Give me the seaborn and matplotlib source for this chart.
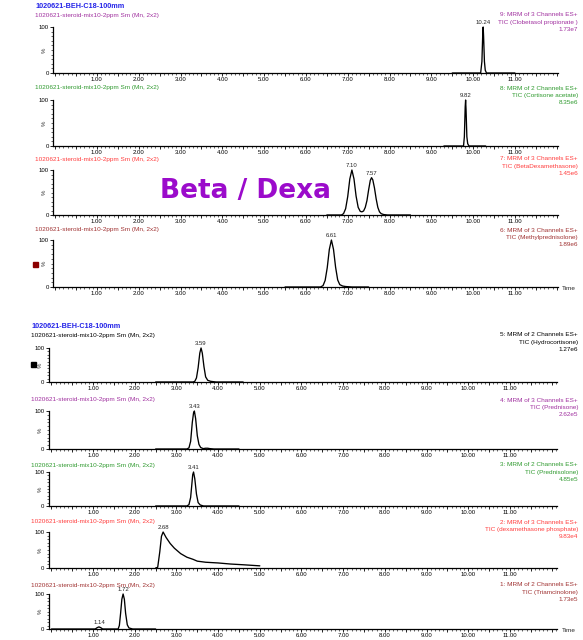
import numpy as np
import matplotlib
matplotlib.use('Agg')
import matplotlib.pyplot as plt
from matplotlib.patches import Rectangle
from matplotlib.ticker import MultipleLocator, FuncFormatter
import seaborn as sns

sns.set_style('white')
plt.rcParams['font.family'] = ['Liberation Sans', 'DejaVu Sans']

W, H = 583, 640

# --- data (time in min, intensity in %) ---
t9 = [9.50, 10.18, 10.21, 10.23, 10.24, 10.25, 10.27, 10.29, 10.32, 11.00]
i9 = [0, 0, 25, 85, 100, 80, 25, 6, 0, 0]

t8 = [9.30, 9.77, 9.79, 9.81, 9.82, 9.83, 9.85, 9.87, 9.90, 10.30]
i8 = [0, 0, 20, 85, 100, 80, 20, 5, 0, 0]

t7 = [6.50, 6.85, 6.90, 6.95, 7.00, 7.05, 7.10, 7.15, 7.20, 7.25, 7.30, 7.34, 7.38,
      7.42, 7.46, 7.50, 7.54, 7.57, 7.60, 7.64, 7.68, 7.72, 7.76, 7.80, 7.86, 7.95, 8.50]
i7 = [0, 0, 3, 14, 41, 80, 100, 80, 42, 17, 8, 7, 9,
      17, 32, 56, 77, 83, 78, 60, 36, 17, 7, 3, 1, 0, 0]

t6 = [5.50, 6.35, 6.41, 6.46, 6.51, 6.56, 6.61, 6.66, 6.71, 6.76, 6.81, 6.88, 6.95, 7.10, 7.50]
i6 = [0, 0, 3, 14, 41, 80, 100, 80, 42, 15, 5, 2, 1, 0, 0]

t5 = [2.50, 3.40, 3.44, 3.48, 3.52, 3.56, 3.59, 3.62, 3.66, 3.70, 3.75, 3.82, 3.95, 4.60]
i5 = [0, 0, 2, 12, 42, 85, 100, 85, 45, 15, 5, 2, 0, 0]

t4 = [2.50, 3.25, 3.30, 3.34, 3.38, 3.41, 3.43, 3.46, 3.50, 3.54, 3.58, 3.64, 3.70, 3.75, 3.80, 3.90, 4.50]
i4 = [0, 0, 3, 20, 70, 95, 100, 80, 35, 12, 4, 1, 2, 2, 1, 0, 0]

t3 = [2.50, 3.25, 3.30, 3.34, 3.37, 3.39, 3.41, 3.44, 3.48, 3.52, 3.57, 3.65, 4.50]
i3 = [0, 0, 4, 25, 65, 92, 100, 80, 35, 10, 3, 0, 0]

t2 = [2.50, 2.55, 2.60, 2.64, 2.68, 2.75, 2.85, 2.95, 3.10, 3.25, 3.40, 3.50, 3.70, 4.00, 4.30, 4.60, 5.00]
i2 = [0, 2, 45, 88, 100, 85, 68, 55, 40, 30, 24, 19, 16, 14, 11, 9, 6]

t1 = [0.00, 1.05, 1.10, 1.14, 1.18, 1.23, 1.60, 1.63, 1.66, 1.69, 1.72, 1.75, 1.78, 1.82, 1.86, 1.95, 2.50]
i1 = [0, 0, 4, 6, 4, 0, 0, 10, 45, 85, 100, 85, 45, 12, 3, 0, 0]

peaks9 = [(10.24, 100, '10.24')]
peaks8 = [(9.82, 100, '9.82')]
peaks7 = [(7.10, 100, '7.10'), (7.57, 83, '7.57')]
peaks6 = [(6.61, 100, '6.61')]
peaks5 = [(3.59, 100, '3.59')]
peaks4 = [(3.43, 100, '3.43')]
peaks3 = [(3.41, 100, '3.41')]
peaks2 = [(2.68, 100, '2.68')]
peaks1 = [(1.14, 6, '1.14'), (1.72, 100, '1.72')]

labels9 = ['9: MRM of 3 Channels ES+', 'TIC (Clobetasol propionate )', '1.73e7']
labels8 = ['8: MRM of 2 Channels ES+', 'TIC (Cortisone acetate)', '8.35e6']
labels7 = ['7: MRM of 3 Channels ES+', 'TIC (BetaDexamethasone)', '1.45e6']
labels6 = ['6: MRM of 3 Channels ES+', 'TIC (Methylprednisolone)', '1.89e6']
labels5 = ['5: MRM of 2 Channels ES+', 'TIC (Hydrocortisone)', '1.27e6']
labels4 = ['4: MRM of 3 Channels ES+', 'TIC (Prednisone)', '2.62e5']
labels3 = ['3: MRM of 2 Channels ES+', 'TIC (Prednisolone)', '4.85e5']
labels2 = ['2: MRM of 3 Channels ES+', 'TIC (dexamethasone phosphate)', '9.83e4']
labels1 = ['1: MRM of 2 Channels ES+', 'TIC (Triamcinolone)', '1.73e5']

title = '1020621-BEH-C18-100mm'
subtitle = '1020621-steroid-mix10-2ppm Sm (Mn, 2x2)'

purple = '#A0309F'
green = '#2F9A2F'
red = '#FF3D3D'
dred = '#A03232'
blue = '#2424E8'

fig = plt.figure(figsize=(W / 100, H / 100), dpi=100)


def fx(x):
    return x / W


def fy(y):
    return 1 - y / H


def tick_fmt(v, pos):
    if abs(v - round(v)) < 1e-6 and 1 <= round(v) <= 11:
        return '%.2f' % v
    return ''


def panel(x0, x1, xlim, sub_x, sub_y, ytop, ybot, t, i, color, labels, peaks, time_lbl=False):
    ax = fig.add_axes([fx(x0), fy(ybot), (x1 - x0) / W, (ybot - ytop) / H])
    sns.lineplot(x=t, y=i, ax=ax, color='black', linewidth=0.95, estimator=None,
                 sort=False, clip_on=False)
    ax.set_xlim(*xlim)
    ax.set_ylim(0, 100)
    for s in ['top', 'right']:
        ax.spines[s].set_visible(False)
    for s in ['left', 'bottom']:
        ax.spines[s].set_linewidth(0.9)
        ax.spines[s].set_color('black')
    ax.xaxis.set_major_locator(MultipleLocator(0.5))
    ax.xaxis.set_minor_locator(MultipleLocator(0.1))
    ax.xaxis.set_major_formatter(FuncFormatter(tick_fmt))
    ax.set_yticks([0, 100])
    ax.set_yticklabels(['0', '100'])
    ax.yaxis.set_minor_locator(MultipleLocator(10))
    ax.tick_params(axis='both', which='major', direction='out', length=2.2, width=0.6,
                   labelsize=4.3, pad=0.8, bottom=True, left=True, colors='black')
    ax.tick_params(axis='both', which='minor', direction='out', length=1.2, width=0.5,
                   bottom=True, left=True)
    ax.set_xlabel('')
    ax.set_ylabel('')
    ax.text(-0.012, 0.5, '%', transform=ax.transAxes, rotation=90, ha='right',
            va='center', fontsize=4.3)
    for rt, h, txt in peaks:
        ax.annotate(txt, (rt, h), xytext=(0, 1.2), textcoords='offset points',
                    ha='center', va='bottom', fontsize=4.3, annotation_clip=False)
    fig.text(fx(sub_x), fy(sub_y), subtitle, color=color, fontsize=4.6, va='center')
    for k, line in enumerate(labels):
        fig.text(fx(578), fy(sub_y + k * 7.3), line, color=color, fontsize=4.6,
                 ha='right', va='center')
    if time_lbl:
        fig.text(fx(562), fy(ybot + 1), 'Time', fontsize=4.6, va='center')
    return ax


top_x = (53, 558, (-0.05, 12.03), 35)
bot_x = (48.5, 557, (-0.07, 12.13), 31)

panel(*top_x, 15, 27, 73, t9, i9, purple, labels9, peaks9)
panel(*top_x, 88, 100, 146, t8, i8, green, labels8, peaks8)
panel(*top_x, 159, 170, 215, t7, i7, red, labels7, peaks7)
panel(*top_x, 230, 240, 287, t6, i6, dred, labels6, peaks6, time_lbl=True)

panel(*bot_x, 335, 348, 382, t5, i5, 'black', labels5, peaks5)
panel(*bot_x, 400, 411, 449, t4, i4, purple, labels4, peaks4)
panel(*bot_x, 465, 472, 506, t3, i3, green, labels3, peaks3)
panel(*bot_x, 522, 532, 568, t2, i2, red, labels2, peaks2)
panel(*bot_x, 585, 594, 629, t1, i1, dred, labels1, peaks1, time_lbl=True)

fig.text(fx(35), fy(6), title, color=blue, fontsize=5.2, fontweight='bold', va='center')
fig.text(fx(31), fy(327), title, color=blue, fontsize=5.2, fontweight='bold', va='center')

fig.text(fx(160), fy(191), 'Beta / Dexa', color='#9B0BCB', fontsize=19,
         fontweight='bold', va='center', ha='left', family='DejaVu Sans')

fig.patches.append(Rectangle((fx(32.5), fy(266.5)), 5 / W, 5 / H, color='#8B0000',
                             transform=fig.transFigure, figure=fig))
fig.patches.append(Rectangle((fx(30.5), fy(366.5)), 5 / W, 5 / H, color='black',
                             transform=fig.transFigure, figure=fig))

fig.savefig('out.png', dpi=100)
